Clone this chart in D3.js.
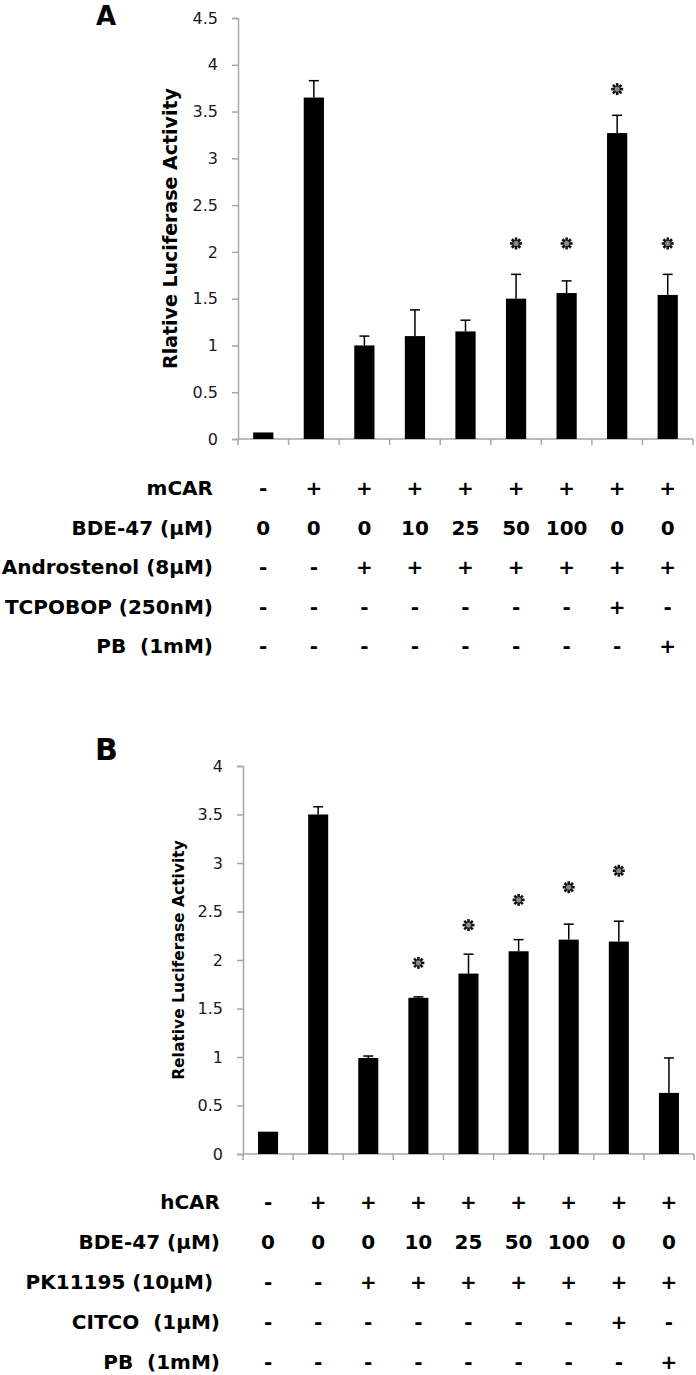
<!DOCTYPE html>
<html><head><meta charset="utf-8">
<script src="https://cdn.jsdelivr.net/npm/d3@7"></script>
<style>body{margin:0;background:#fff}svg{display:block}text{white-space:pre}</style>
</head><body>
<svg id="c" width="696" height="1375"></svg>
<script>
// ---------- data ----------
const categories = ["1","2","3","4","5","6","7","8","9"];
const meanA = [0.07, 3.65, 1.00, 1.10, 1.15, 1.50, 1.56, 3.27, 1.54];
const errA  = [0, 0.18, 0.10, 0.28, 0.12, 0.26, 0.13, 0.19, 0.22];
const starA = [null, null, null, null, null, 2.09, 2.09, 3.74, 2.09];
const ticksA = [0, 0.5, 1, 1.5, 2, 2.5, 3, 3.5, 4, 4.5];
const tableLabelsA = ["mCAR", "BDE-47 (µM)", "Androstenol (8µM)", "TCPOBOP (250nM)", "PB  (1mM)"];
const tableValuesA = [
  ["-","+","+","+","+","+","+","+","+"],
  ["0","0","0","10","25","50","100","0","0"],
  ["-","-","+","+","+","+","+","+","+"],
  ["-","-","-","-","-","-","-","+","-"],
  ["-","-","-","-","-","-","-","-","+"]
];
const meanB = [0.23, 3.50, 0.99, 1.61, 1.86, 2.09, 2.21, 2.19, 0.63];
const errB  = [0, 0.08, 0.02, 0.01, 0.20, 0.12, 0.16, 0.21, 0.36];
const starB = [null, null, null, 1.97, 2.36, 2.62, 2.75, 2.92, null];
const ticksB = [0, 0.5, 1, 1.5, 2, 2.5, 3, 3.5, 4];
const tableLabelsB = ["hCAR", "BDE-47 (µM)", "PK11195 (10µM) ", "CITCO  (1µM)", "PB  (1mM)"];
const tableValuesB = [
  ["-","+","+","+","+","+","+","+","+"],
  ["0","0","0","10","25","50","100","0","0"],
  ["-","-","+","+","+","+","+","+","+"],
  ["-","-","-","-","-","-","-","+","-"],
  ["-","-","-","-","-","-","-","-","+"]
];

const svg = d3.select("#c");
const AX = "#a6a6a6";

function panel(o) {
  const g = svg.append("g");
  const x = d3.scaleBand().domain(categories).range([o.x0, o.x1]).paddingInner(0.6).paddingOuter(0.3);
  const y = d3.scaleLinear().domain(o.domain).range([o.y0, o.y1]);

  // y axis
  const ya = g.append("g").attr("transform", `translate(${o.x0},0)`)
    .call(d3.axisLeft(y).tickValues(o.ticks).tickSize(6).tickPadding(14).tickFormat(d => d3.format("")(d)));
  ya.select(".domain").attr("stroke", AX).attr("stroke-width", 1.5);
  ya.selectAll(".tick line").attr("stroke", AX).attr("stroke-width", 1.5);
  ya.selectAll(".tick text").attr("font-family", "DejaVu Sans").attr("font-size", 16).attr("fill", "#1a1a1a");

  // x axis line + boundary ticks
  const bounds = categories.map(c => x(c) + x.bandwidth()/2 - x.step()/2).concat([o.x1]);
  g.append("line").attr("x1", o.x0).attr("x2", o.x1).attr("y1", y(0)).attr("y2", y(0))
    .attr("stroke", AX).attr("stroke-width", 1.5);
  g.selectAll(".bt").data(bounds).join("line")
    .attr("x1", d => d).attr("x2", d => d).attr("y1", y(0)).attr("y2", y(0) + 6)
    .attr("stroke", AX).attr("stroke-width", 1.5);

  // error bars (upper only)
  const cw = 5;
  const eb = g.selectAll(".eb").data(categories.map((c, i) => ({c, m: o.mean[i], e: o.err[i]})).filter(d => d.e > 0)).join("g");
  eb.append("line").attr("x1", d => x(d.c) + x.bandwidth()/2).attr("x2", d => x(d.c) + x.bandwidth()/2)
    .attr("y1", d => y(d.m)).attr("y2", d => y(d.m + d.e)).attr("stroke", "#000").attr("stroke-width", 1.5);
  eb.append("line").attr("x1", d => x(d.c) + x.bandwidth()/2 - cw).attr("x2", d => x(d.c) + x.bandwidth()/2 + cw)
    .attr("y1", d => y(d.m + d.e)).attr("y2", d => y(d.m + d.e)).attr("stroke", "#000").attr("stroke-width", 1.5);

  // bars
  g.selectAll(".bar").data(categories.map((c, i) => ({c, m: o.mean[i]}))).join("rect")
    .attr("x", d => x(d.c)).attr("width", x.bandwidth())
    .attr("y", d => y(d.m)).attr("height", d => y(0) - y(d.m)).attr("fill", "#000");

  // significance stars
  const st = g.selectAll(".st").data(categories.map((c, i) => ({c, s: o.star[i]})).filter(d => d.s != null)).join("g")
    .attr("transform", d => `translate(${x(d.c) + x.bandwidth()/2},${y(d.s)})`);
  [0, 45, 90, 135].forEach(a => {
    st.append("line").attr("x1", -6).attr("x2", 6).attr("y1", 0).attr("y2", 0)
      .attr("transform", `rotate(${a})`).attr("stroke", "#111").attr("stroke-width", 2.6);
  });
  st.append("circle").attr("r", 2.6).attr("fill", "#888");

  // y title
  g.append("text").attr("transform", `translate(${o.titleX},${(o.y0 + o.y1)/2}) rotate(-90)`)
    .attr("text-anchor", "middle").attr("font-family", "DejaVu Sans").attr("font-weight", "bold")
    .attr("font-size", o.titleSize).attr("fill", "#000").text(o.title);

  // panel letter
  g.append("text").attr("x", o.letterX).attr("y", o.letterY).attr("font-family", "DejaVu Sans")
    .attr("font-weight", "bold").attr("font-size", o.letterSize).text(o.letter);

  // table
  o.labels.forEach((lab, r) => {
    const yy = o.rowY0 + r * o.rowStep;
    g.append("text").attr("x", o.labelRight).attr("y", yy).attr("text-anchor", "end")
      .attr("dominant-baseline", "central").attr("font-family", "DejaVu Sans").attr("font-weight", "bold")
      .attr("font-size", 20).text(lab);
    g.selectAll(null).data(categories.map((c, i) => ({c, v: o.values[r][i]}))).join("text")
      .attr("x", d => x(d.c) + x.bandwidth()/2).attr("y", yy).attr("text-anchor", "middle")
      .attr("dominant-baseline", "central").attr("font-family", "DejaVu Sans").attr("font-weight", "bold")
      .attr("font-size", 20).text(d => d.v);
  });
}

panel({x0: 238, x1: 693, y0: 439, y1: 18, domain: [0, 4.5], ticks: ticksA,
  mean: meanA, err: errA, star: starA, title: "Rlative Luciferase Activity", titleX: 177, titleSize: 19,
  letter: "A", letterX: 96, letterY: 25, letterSize: 26,
  labels: tableLabelsA, values: tableValuesA, rowY0: 488, rowStep: 39.5, labelRight: 213});

panel({x0: 243, x1: 694, y0: 1154, y1: 766, domain: [0, 4], ticks: ticksB,
  mean: meanB, err: errB, star: starB, title: "Relative Luciferase Activity", titleX: 184, titleSize: 15.5,
  letter: "B", letterX: 95, letterY: 760, letterSize: 30,
  labels: tableLabelsB, values: tableValuesB, rowY0: 1202, rowStep: 40, labelRight: 220});
</script>
</body></html>
